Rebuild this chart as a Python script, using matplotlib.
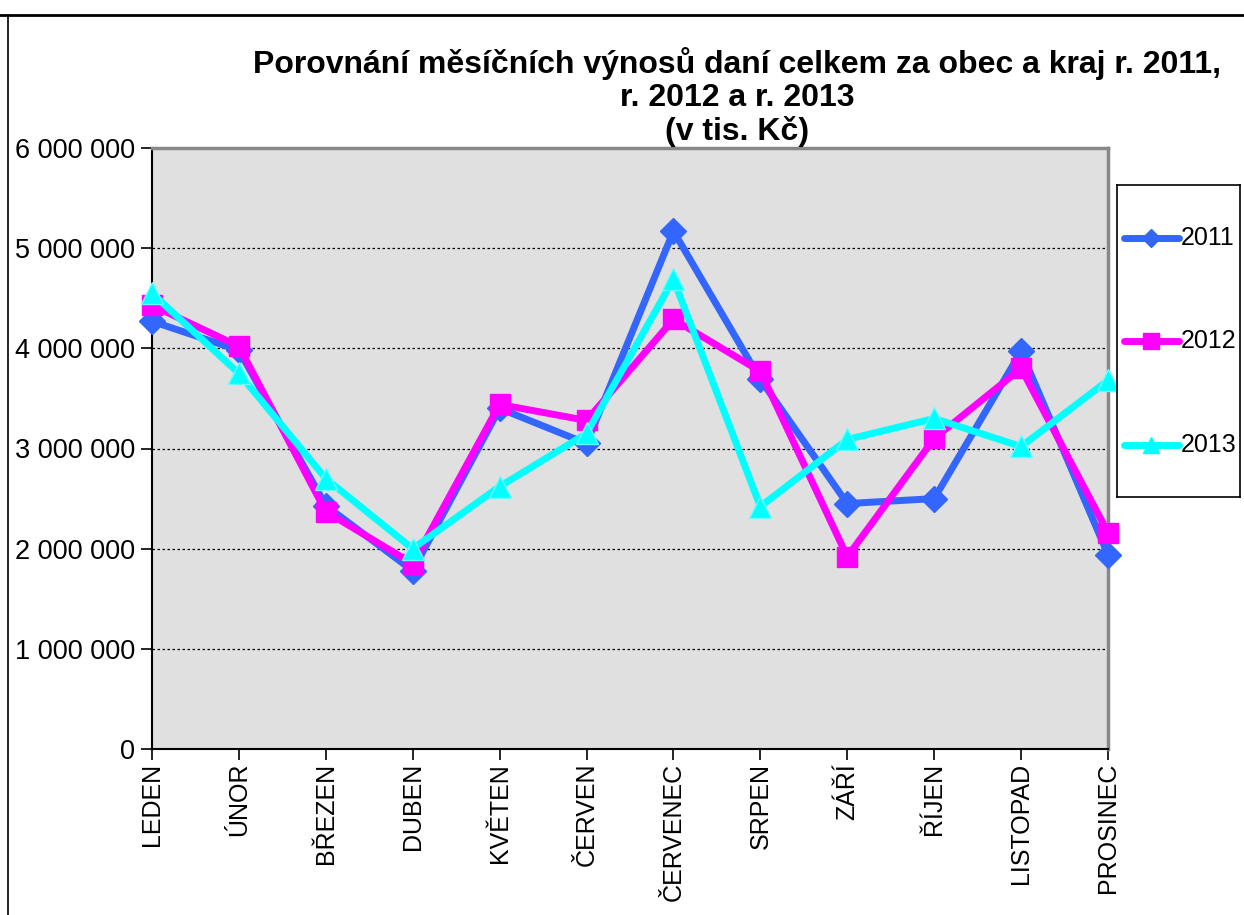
import matplotlib
matplotlib.use('Agg')
import matplotlib.pyplot as plt
from matplotlib.ticker import FuncFormatter
from matplotlib.lines import Line2D

months = ['LEDEN', 'ÚNOR', 'BŘEZEN', 'DUBEN', 'KVĚTEN', 'ČERVEN',
          'ČERVENEC', 'SRPEN', 'ZÁŘÍ', 'ŘÍJEN', 'LISTOPAD', 'PROSINEC']
v2011 = [4270000, 3980000, 2430000, 1780000, 3400000, 3050000,
         5170000, 3690000, 2450000, 2500000, 3970000, 1940000]
v2012 = [4430000, 4020000, 2370000, 1850000, 3440000, 3280000,
         4290000, 3770000, 1920000, 3100000, 3800000, 2160000]
v2013 = [4550000, 3750000, 2700000, 2000000, 2620000, 3150000,
         4690000, 2420000, 3090000, 3300000, 3020000, 3680000]
yticks = [0, 1000000, 2000000, 3000000, 4000000, 5000000, 6000000]

plt.rcParams['font.family'] = ['Liberation Sans', 'DejaVu Sans']

fig = plt.figure(figsize=(12.44, 9.15), dpi=100)
ax = fig.add_axes([152 / 1244, 1 - 749 / 915, (1108 - 152) / 1244, (749 - 148) / 915])
ax.set_facecolor('#e0e0e0')

x = list(range(len(months)))
ax.plot(x, v2011, color='#3366ff', lw=5, marker='D', ms=13, label='2011', clip_on=False, zorder=3)
ax.plot(x, v2012, color='#ff00ff', lw=5, marker='s', ms=15, label='2012', clip_on=False, zorder=4)
ax.plot(x, v2013, color='#00ffff', lw=5, marker='^', ms=16, mec='#66ffff', label='2013', clip_on=False, zorder=5)

ax.set_xlim(0, len(months) - 1)
ax.set_ylim(0, 6000000)
ax.set_yticks(yticks)
ax.yaxis.set_major_formatter(FuncFormatter(lambda v, p: '{:,.0f}'.format(v).replace(',', ' ')))
ax.set_xticks(x)
ax.set_xticklabels(months, rotation=90, fontsize=18)
ax.tick_params(axis='y', labelsize=19.5, length=8, width=1.2, pad=4)
ax.tick_params(axis='x', length=8, width=1.2, pad=2)
ax.grid(axis='y', color='black', linestyle=(0, (2, 2)), lw=0.9)
ax.set_axisbelow(True)

for s in ['left', 'bottom']:
    ax.spines[s].set_color('black')
    ax.spines[s].set_linewidth(1.5)
for s in ['top', 'right']:
    ax.spines[s].set_color('#888888')
    ax.spines[s].set_linewidth(2.5)

fig.text(737 / 1244, 1 - 97 / 915,
         'Porovnání měsíčních výnosů daní celkem za obec a kraj r. 2011,\nr. 2012 a r. 2013\n(v tis. Kč)',
         ha='center', va='center', fontsize=23, fontweight='bold', linespacing=1.12)

# legend box
lax = fig.add_axes([1117 / 1244, 1 - 497 / 915, (1240 - 1117) / 1244, (497 - 185) / 915])
lax.set_xlim(0, 1)
lax.set_ylim(0, 1)
lax.set_xticks([])
lax.set_yticks([])
for s in lax.spines.values():
    s.set_linewidth(1.2)
handles = [
    ('2011', '#3366ff', 'D', 9),
    ('2012', '#ff00ff', 's', 11),
    ('2013', '#00ffff', '^', 11),
]
ys = [1 - (238 - 185) / 312, 1 - (341 - 185) / 312, 1 - (445 - 185) / 312]
for (lab, c, m, ms), yy in zip(handles, ys):
    lax.plot([0.06, 0.5], [yy, yy], color=c, lw=5, solid_capstyle='round')
    lax.plot([0.28], [yy], color=c, marker=m, ms=ms)
    lax.text(0.52, yy, lab, va='center', ha='left', fontsize=18)

# outer frame lines
fig.add_artist(Line2D([0, 1], [1 - 15 / 915, 1 - 15 / 915], color='black', lw=2))
fig.add_artist(Line2D([8 / 1244, 8 / 1244], [0, 1 - 15 / 915], color='black', lw=1.2))

fig.savefig('out.png', dpi=100)
